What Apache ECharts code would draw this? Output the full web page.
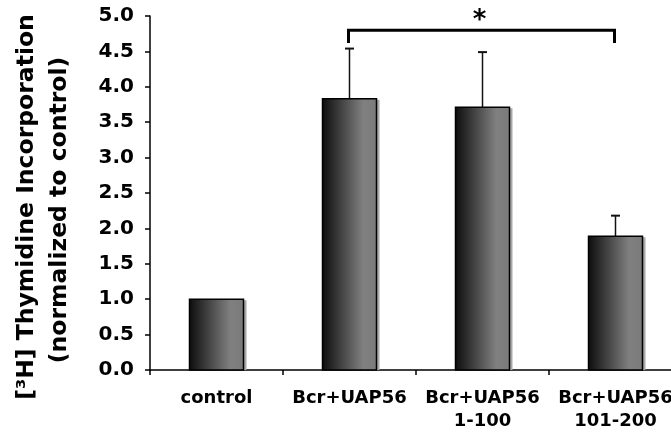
<!DOCTYPE html>
<html>
<head>
<meta charset="utf-8">
<script src="https://cdn.jsdelivr.net/npm/echarts@6/dist/echarts.min.js"></script>
<style>html,body{margin:0;padding:0;background:#fff;}#c{width:671px;height:435px;}</style>
</head>
<body>
<div id="c"></div>
<script>
const categories = ['control', 'Bcr+UAP56', 'Bcr+UAP56\n1-100', 'Bcr+UAP56\n101-200'];
const means = [1.0, 3.83, 3.71, 1.89];
const errUpper = [0, 0.71, 0.78, 0.29];
const yTicks = [0, 5, 0.5];
const bracket = { from: 1, to: 3, top: 4.80, legBottom: 4.62, label: '*' };
const yTitleLines = ['[\u00B3H] Thymidine Incorporation', '(normalized to control)'];

const FONT = '"DejaVu Sans", Verdana, sans-serif';
const chart = echarts.init(document.getElementById('c'));

const barData = means.map((m, i) => [i, m]);
const errData = means.map((m, i) => [i, m, m + errUpper[i]]);
const BAR_W = 54;

chart.setOption({
  animation: false,
  grid: { left: 150, top: 16, bottom: 65, width: 532, containLabel: false, outerBoundsMode: 'none' },
  xAxis: {
    type: 'category',
    data: categories,
    axisLine: { lineStyle: { color: '#000', width: 1.5 } },
    axisTick: { show: true, length: 5, lineStyle: { color: '#000', width: 1.5 }, alignWithLabel: false },
    axisLabel: { color: '#000', fontFamily: FONT, fontWeight: 'bold', fontSize: 18, margin: 17, lineHeight: 23, interval: 0 }
  },
  yAxis: [{
    type: 'value',
    min: yTicks[0], max: yTicks[1], interval: yTicks[2],
    splitLine: { show: false },
    axisLine: { show: true, lineStyle: { color: '#000', width: 1.5 } },
    axisTick: { show: true, length: 5, lineStyle: { color: '#000', width: 1.5 } },
    axisLabel: { show: false }
  }, {
    type: 'value',
    position: 'left',
    offset: 16,
    min: yTicks[0], max: yTicks[1], interval: yTicks[2],
    splitLine: { show: false },
    axisLine: { show: false },
    axisTick: { show: false },
    axisLabel: { show: true, color: '#000', fontFamily: FONT, fontWeight: 'bold', fontSize: 20, margin: 0, formatter: v => v.toFixed(1) }
  }],
  graphic: [
    { type: 'text', x: 27, y: 207, rotation: Math.PI / 2, style: { text: yTitleLines[0], font: 'bold 23.5px ' + FONT, fill: '#000', align: 'center', verticalAlign: 'middle' } },
    { type: 'text', x: 60, y: 210, rotation: Math.PI / 2, style: { text: yTitleLines[1], font: 'bold 23.5px ' + FONT, fill: '#000', align: 'center', verticalAlign: 'middle' } }
  ],
  series: [
    {
      type: 'custom',
      data: barData,
      z: 2,
      renderItem: function (params, api) {
        const top = api.coord([api.value(0), api.value(1)]);
        const base = api.coord([api.value(0), 0]);
        const x = top[0] - BAR_W / 2, y = top[1], h = base[1] - top[1];
        return {
          type: 'group',
          children: [
            { type: 'rect', shape: { x: x + 3, y: y + 1, width: BAR_W, height: h - 1 }, style: { fill: '#a8a8a8' } },
            { type: 'rect', shape: { x: x, y: y, width: BAR_W, height: h }, style: {
              fill: new echarts.graphic.LinearGradient(0, 0, 1, 0, [
                { offset: 0, color: '#0c0c0c' },
                { offset: 0.75, color: '#808080' },
                { offset: 1, color: '#7a7a7a' }
              ]), stroke: '#000', lineWidth: 1.5 } }
          ]
        };
      }
    },
    {
      type: 'custom',
      data: errData,
      z: 1,
      renderItem: function (params, api) {
        const i = api.value(0), lo = api.value(1), hi = api.value(2);
        if (hi <= lo) return null;
        const p0 = api.coord([i, lo]);
        const p1 = api.coord([i, hi]);
        return {
          type: 'group',
          children: [
            { type: 'line', shape: { x1: p0[0], y1: p0[1], x2: p1[0], y2: p1[1] }, style: { stroke: '#111', lineWidth: 1.5 } },
            { type: 'line', shape: { x1: p1[0] - 4.5, y1: p1[1], x2: p1[0] + 4.5, y2: p1[1] }, style: { stroke: '#111', lineWidth: 2 } }
          ]
        };
      }
    },
    {
      type: 'custom',
      data: [[bracket.from, bracket.to, bracket.top, bracket.legBottom]],
      z: 3,
      renderItem: function (params, api) {
        const a = api.coord([api.value(0), api.value(2)]);
        const b = api.coord([api.value(1), api.value(2)]);
        const aLow = api.coord([api.value(0), api.value(3)]);
        const st = { stroke: '#000', lineWidth: 3, fill: null, lineJoin: 'miter' };
        return {
          type: 'group',
          children: [
            { type: 'polyline', shape: { points: [[a[0] - 1, aLow[1]], [a[0] - 1, a[1]], [b[0] - 1, b[1]], [b[0] - 1, aLow[1]]] }, style: st },
            { type: 'text', style: { text: bracket.label, x: (a[0] + b[0]) / 2 - 3, y: a[1] - 9, align: 'center', verticalAlign: 'middle', font: 'bold 26px ' + FONT, fill: '#000' } }
          ]
        };
      }
    }
  ]
});
</script>
</body>
</html>
